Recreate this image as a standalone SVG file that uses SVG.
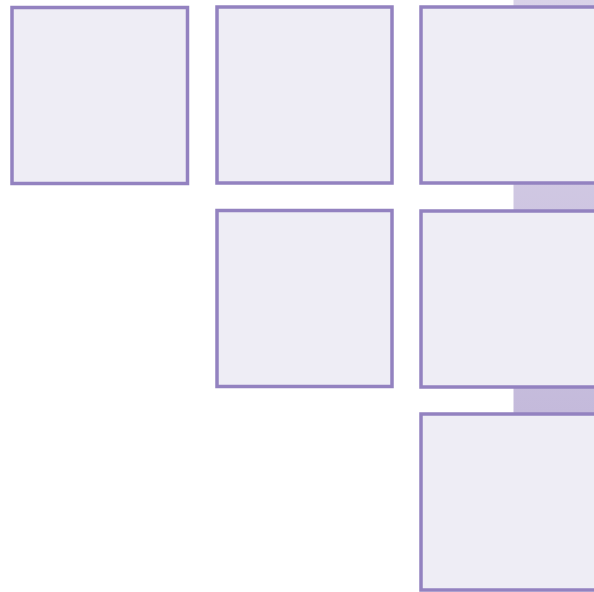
<svg xmlns="http://www.w3.org/2000/svg" width="594" height="592" viewBox="0 0 594 592">
<defs>
<style>
.box{fill:#eeedf5;stroke:#9382c0;stroke-width:3.5}
</style>
<linearGradient id="band" x1="0" y1="0" x2="0" y2="414" gradientUnits="userSpaceOnUse">
<stop offset="0" stop-color="#d9d2e8"/>
<stop offset="1" stop-color="#c4badb"/>
</linearGradient>
</defs>
<rect width="594" height="592" fill="#ffffff"/>
<g id="connectors">
<rect x="513.5" y="0" width="81" height="414" fill="url(#band)"/>
</g>
<g id="n1"><rect class="box" x="12" y="7.5" width="175.5" height="176"/></g>
<g id="n2"><rect class="box" x="217" y="7" width="175" height="176"/></g>
<g id="n3"><rect class="box" x="421" y="7" width="180" height="176"/></g>
<g id="n4"><rect class="box" x="217" y="210.5" width="175" height="176"/></g>
<g id="n5"><rect class="box" x="421" y="211" width="180" height="176"/></g>
<g id="n6"><rect class="box" x="421" y="414" width="180" height="176"/></g>
</svg>
